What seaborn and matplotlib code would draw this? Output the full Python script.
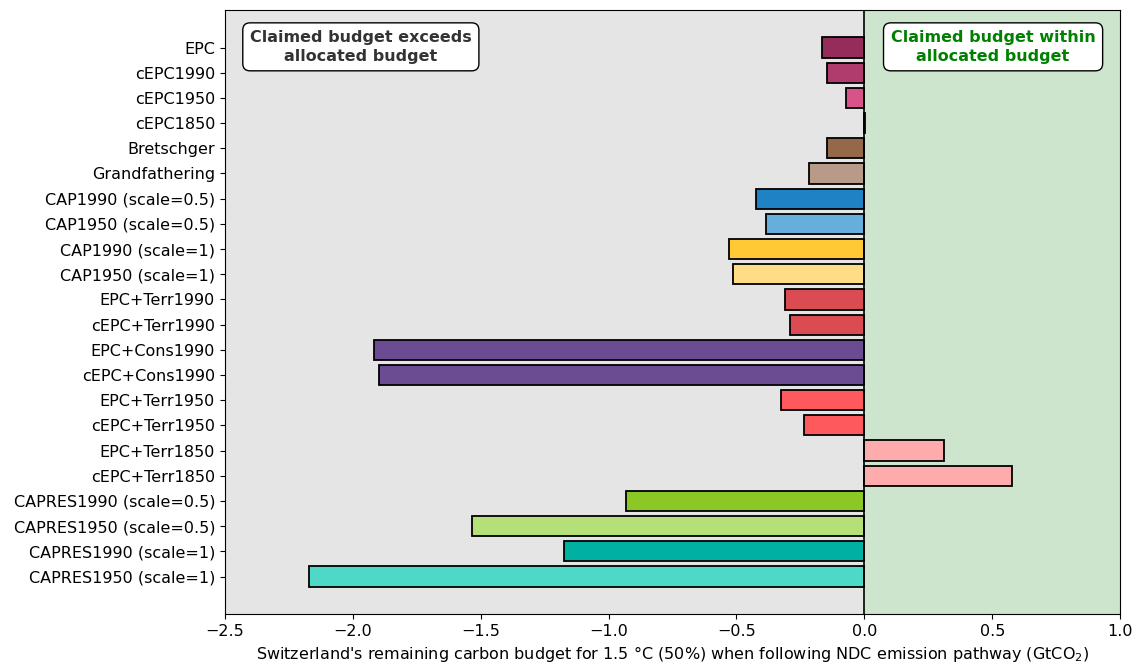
import matplotlib
matplotlib.use("Agg")
import matplotlib.pyplot as plt
import seaborn as sns
import pandas as pd

approaches = [
    "EPC", "cEPC1990", "cEPC1950", "cEPC1850", "Bretschger", "Grandfathering",
    "CAP1990 (scale=0.5)", "CAP1950 (scale=0.5)", "CAP1990 (scale=1)", "CAP1950 (scale=1)",
    "EPC+Terr1990", "cEPC+Terr1990", "EPC+Cons1990", "cEPC+Cons1990",
    "EPC+Terr1950", "cEPC+Terr1950", "EPC+Terr1850", "cEPC+Terr1850",
    "CAPRES1990 (scale=0.5)", "CAPRES1950 (scale=0.5)",
    "CAPRES1990 (scale=1)", "CAPRES1950 (scale=1)",
]
remaining_budget = [
    -0.164, -0.145, -0.07, 0.004, -0.145, -0.215,
    -0.423, -0.383, -0.528, -0.512,
    -0.309, -0.29, -1.916, -1.897,
    -0.326, -0.235, 0.313, 0.575,
    -0.931, -1.533, -1.173, -2.171,
]
bar_colors = [
    "#952d5a", "#b03c6e", "#d85388", "#d85388", "#946848", "#b89a88",
    "#1f82c2", "#66aedb", "#fec934", "#fedd86",
    "#da4b52", "#da4b52", "#6b4c92", "#6b4c92",
    "#fe5a5e", "#fe5a5e", "#fdabab", "#fdabab",
    "#8cc825", "#b5e077", "#00b1a1", "#4dd8c7",
]

df = pd.DataFrame({"approach": approaches, "budget": remaining_budget})

sns.set_style("ticks", {"text.color": "black", "axes.labelcolor": "black",
                        "xtick.color": "black", "ytick.color": "black",
                        "axes.edgecolor": "black"})
fig, ax = plt.subplots(figsize=(11.35, 6.66), dpi=100)
fig.subplots_adjust(left=0.198, right=0.987, top=0.985, bottom=0.078)

ax.axvspan(-2.5, 0, color="grey", alpha=0.2, zorder=0, lw=0)
ax.axvspan(0, 1.0, color="green", alpha=0.2, zorder=0, lw=0)

sns.barplot(
    data=df, x="budget", y="approach", hue="approach",
    palette=dict(zip(approaches, bar_colors)), order=approaches,
    orient="h", width=0.8, edgecolor="black", linewidth=1.3,
    saturation=1, legend=False, ax=ax, zorder=2,
)

ax.axvline(0, color="black", lw=1.2, zorder=3)
n = len(approaches)
ax.set_ylim(n - 1 + 0.4 + 0.05 * (n - 1 + 0.8), -0.4 - 0.05 * (n - 1 + 0.8))
ax.set_xlim(-2.5, 1.0)
ax.set_xticks([-2.5, -2.0, -1.5, -1.0, -0.5, 0.0, 0.5, 1.0])
ax.set_ylabel("")
ax.set_xlabel("Switzerland's remaining carbon budget for 1.5 °C (50%) when following NDC emission pathway (GtCO$_2$)",
              fontsize=11.5, color="black")
ax.tick_params(axis="both", labelsize=11.5, colors="black")
for sp in ax.spines.values():
    sp.set_color("black")
    sp.set_linewidth(0.8)

box = dict(boxstyle="round,pad=0.45", facecolor="white", edgecolor="black", lw=1.0)
ax.text(0.152, 0.939, "Claimed budget exceeds\nallocated budget", transform=ax.transAxes,
        ha="center", va="center", fontsize=11.5, fontweight="bold", color="#333333",
        bbox=box, zorder=5, linespacing=1.3)
ax.text(0.858, 0.939, "Claimed budget within\nallocated budget", transform=ax.transAxes,
        ha="center", va="center", fontsize=11.5, fontweight="bold", color="green",
        bbox=box, zorder=5, linespacing=1.3)

fig.savefig("out.png", dpi=100)
